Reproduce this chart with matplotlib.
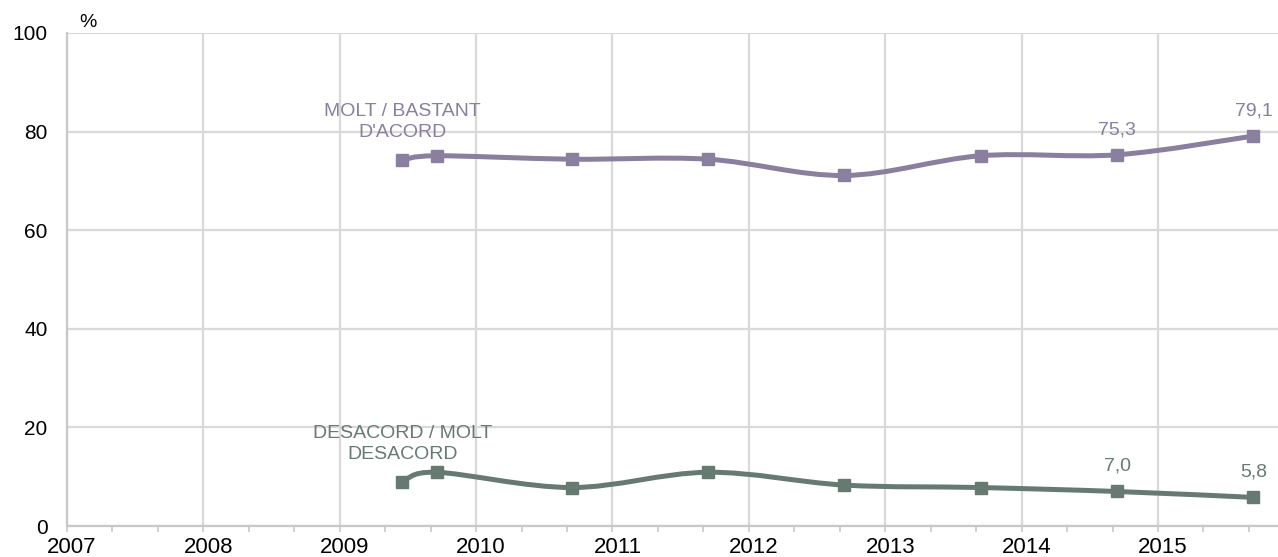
#!/usr/bin/env python3
"""Acord / desacord survey trend, 2009-2015."""

import matplotlib
matplotlib.use("Agg")
import matplotlib.pyplot as plt
import matplotlib.transforms as mtransforms
import numpy as np
from matplotlib.path import Path
from matplotlib.patches import PathPatch
from matplotlib.ticker import MultipleLocator

plt.rcParams["font.family"] = ["Liberation Sans", "DejaVu Sans"]

# survey dates (fractional years)
dates = [2009.46, 2009.71, 2010.70, 2011.70, 2012.70, 2013.70, 2014.70, 2015.70]
acord = [74.2, 75.1, 74.4, 74.4, 71.1, 75.1, 75.3, 79.1]
desacord = [8.9, 10.9, 7.8, 10.9, 8.3, 7.8, 7.0, 5.8]

year_ticks = list(range(2007, 2016))
value_labels_idx = [6, 7]

PURPLE = "#8a7f9e"
GREEN = "#667a72"
GRID = "#d9d9d9"


def smooth_path(xs, ys):
    """Bezier path through the points, Excel style smoothing."""
    pts = np.column_stack([xs, ys])
    n = len(pts)
    verts = [pts[0]]
    codes = [Path.MOVETO]
    for i in range(n - 1):
        p0 = pts[i - 1] if i > 0 else pts[i]
        p1 = pts[i]
        p2 = pts[i + 1]
        p3 = pts[i + 2] if i + 2 < n else pts[i + 1]
        c1 = p1 + (p2 - p0) / 6.0
        c2 = p2 - (p3 - p1) / 6.0
        verts += [c1, c2, p2]
        codes += [Path.CURVE4] * 3
    return Path(verts, codes)


def draw_series(ax, ys, color, label):
    patch = PathPatch(smooth_path(dates, ys), facecolor="none", edgecolor=color,
                      linewidth=3.6, capstyle="round", zorder=3)
    ax.add_patch(patch)
    ax.plot(dates, ys, linestyle="none", marker="s", markersize=8,
            color=color, zorder=4)
    ax.annotate(label, (dates[0], ys[0]), xytext=(0, 14), textcoords="offset points",
                ha="center", va="bottom", fontsize=14, color=color,
                linespacing=1.25, multialignment="center")
    for i in value_labels_idx:
        ax.annotate(f"{ys[i]:.1f}".replace(".", ","), (dates[i], ys[i]),
                    xytext=(0, 12), textcoords="offset points",
                    ha="center", va="bottom", fontsize=14, color=color)


fig = plt.figure(figsize=(12.78, 5.57), dpi=100)
ax = fig.add_axes([67 / 1278, 31 / 557, 1211 / 1278, 493 / 557])

draw_series(ax, acord, PURPLE, "MOLT / BASTANT\nD'ACORD")
draw_series(ax, desacord, GREEN, "DESACORD / MOLT\nDESACORD")

ax.set_xlim(2007, 2015.88)
ax.set_ylim(0, 100)
ax.set_xticks(year_ticks)
ax.set_xticklabels([])
ax.xaxis.set_minor_locator(MultipleLocator(1 / 3))
ax.set_yticks([0, 20, 40, 60, 80, 100])

# year labels: a few pixels right of the gridlines, as in the original
lbl_tr = mtransforms.offset_copy(ax.get_xaxis_transform(), fig=fig,
                                 x=5, y=-11, units="dots")
for y in year_ticks:
    ax.text(y, 0, str(y), transform=lbl_tr, ha="center", va="top",
            fontsize=16, color="black", clip_on=False)

ax.grid(True, which="major", color=GRID, linewidth=1.6, zorder=0)
ax.set_axisbelow(True)
for side in ["top", "right"]:
    ax.spines[side].set_visible(False)
for side in ["left", "bottom"]:
    ax.spines[side].set_color("#c8c8c8")
    ax.spines[side].set_linewidth(1.6)

ax.tick_params(axis="y", length=0, pad=14, labelsize=15, labelcolor="black")
ax.tick_params(axis="x", which="both", length=4, width=1.2, color="#c8c8c8",
               direction="out", pad=3)

fig.text(88 / 1278, 1 - 27 / 557, "%", ha="center", va="baseline", fontsize=14)

fig.savefig("out.png", dpi=100)
plt.close(fig)
